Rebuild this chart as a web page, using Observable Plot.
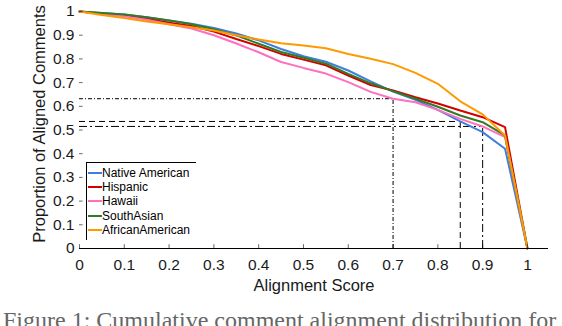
<!DOCTYPE html>
<html>
<head>
<meta charset="utf-8">
<script src="https://cdn.jsdelivr.net/npm/d3@7"></script>
<script src="https://cdn.jsdelivr.net/npm/@observablehq/plot@0.6"></script>
<style>
  html, body { margin: 0; padding: 0; background: #fff; }
  #wrap { position: relative; width: 562px; height: 326px; overflow: hidden; background: #fff; }
  #legend { position: absolute; left: 86px; top: 162px; width: 109px; height: 77px;
            border-top: 1px solid #000; border-left: 1px solid #000; background: #fff;
            font-family: "Liberation Sans", Arial, sans-serif; font-size: 12px; color: #000; }
  .row { position: absolute; left: 0; height: 14px; line-height: 14px; white-space: nowrap; }
  .sw { position: absolute; left: 1px; top: 6px; width: 14px; height: 2px; }
  .lab { position: absolute; left: 15px; top: 0; }
  #caption { position: absolute; left: 3px; top: 308px; font-family: "Liberation Serif", "Times New Roman", serif;
             font-size: 24px; color: #666; white-space: nowrap; line-height: 1; }
</style>
</head>
<body>
<div id="wrap"></div>
<script>
// ---- data ----
const scores = [0, 0.05, 0.1, 0.15, 0.2, 0.25, 0.3, 0.35, 0.4, 0.45, 0.5, 0.55, 0.6, 0.65, 0.7, 0.75, 0.8, 0.85, 0.9, 0.95, 1];
const nativeAmerican  = [1, 0.994, 0.987, 0.976, 0.962, 0.948, 0.930, 0.907, 0.878, 0.842, 0.811, 0.788, 0.751, 0.705, 0.662, 0.627, 0.585, 0.536, 0.491, 0.421, 0];
const hispanic        = [1, 0.991, 0.983, 0.969, 0.953, 0.939, 0.915, 0.884, 0.854, 0.821, 0.797, 0.773, 0.730, 0.690, 0.667, 0.638, 0.612, 0.582, 0.554, 0.512, 0];
const hawaii          = [1, 0.990, 0.980, 0.965, 0.946, 0.928, 0.900, 0.865, 0.828, 0.787, 0.762, 0.738, 0.702, 0.661, 0.632, 0.617, 0.585, 0.547, 0.515, 0.470, 0];
const southAsian      = [1, 0.994, 0.987, 0.976, 0.962, 0.946, 0.925, 0.899, 0.864, 0.829, 0.805, 0.780, 0.737, 0.697, 0.664, 0.632, 0.598, 0.561, 0.533, 0.477, 0];
const africanAmerican = [1, 0.985, 0.973, 0.958, 0.946, 0.934, 0.920, 0.900, 0.882, 0.866, 0.857, 0.845, 0.821, 0.801, 0.778, 0.741, 0.695, 0.621, 0.566, 0.477, 0];

const seriesNames  = ["Native American", "Hispanic", "Hawaii", "SouthAsian", "AfricanAmerican"];
const seriesColors = ["#3f7fdb", "#d40000", "#ff6fbf", "#347a22", "#ff9900"];
const seriesValues = [nativeAmerican, hispanic, hawaii, southAsian, africanAmerican];

// reference (threshold) lines
const refScores  = [0.7, 0.85, 0.9];
const refProps   = [0.632, 0.536, 0.515];
const refDashes  = ["4,2,1,2", "6,4", "8,3,2,3"];

const xTicks = [0, 0.1, 0.2, 0.3, 0.4, 0.5, 0.6, 0.7, 0.8, 0.9, 1];
const xTickLabels = ["0", "0.1", "0.2", "0.3", "0.4", "0.5", "0.6", "0.7", "0.8", "0.9", "1"];
const yTicks = [0, 0.1, 0.2, 0.3, 0.4, 0.5, 0.6, 0.7, 0.8, 0.9, 1];
const yTickLabels = ["0", "0.1", "0.2", "0.3", "0.4", "0.5", "0.6", "0.7", "0.8", "0.9", "1"];

const xLabel = "Alignment Score";
const yLabel = "Proportion of Aligned Comments";
const captionText = "Figure 1: Cumulative comment alignment distribution for";

// ---- build table ----
const rows = [];
seriesNames.forEach((name, s) => {
  scores.forEach((x, i) => rows.push({series: name, score: x, prop: seriesValues[s][i]}));
});
const refs = refScores.map((x, i) => ({x, y: refProps[i], dash: refDashes[i]}));

const refMarks = refs.flatMap(r => [
  Plot.ruleY([r], {y: "y", x1: 0, x2: "x", stroke: "#000", strokeWidth: 1, strokeDasharray: r.dash}),
  Plot.ruleX([r], {x: "x", y1: 0, y2: "y", stroke: "#000", strokeWidth: 1, strokeDasharray: r.dash})
]);

const chart = Plot.plot({
  width: 562, height: 326,
  marginLeft: 79, marginRight: 14, marginTop: 11, marginBottom: 78,
  x: {domain: [0, 1.047]},
  y: {domain: [0, 1]},
  color: {domain: seriesNames, range: seriesColors},
  style: {fontFamily: "'Liberation Sans', Arial, sans-serif", fontSize: "15.5px", color: "#1a1a1a", background: "#fff"},
  marks: [
    ...refMarks,
    Plot.line(rows, {x: "score", y: "prop", stroke: "series", z: "series", strokeWidth: 2, strokeLinejoin: "miter"}),
    Plot.ruleY([0], {stroke: "#000", strokeWidth: 1}),
    Plot.ruleX(xTicks, {x: d => d, y1: 0, y2: 0.016, stroke: "#000", strokeWidth: 0.6}),
    Plot.ruleY(yTicks, {y: d => d, x1: 0, x2: 0.008, stroke: "#000", strokeWidth: 0.6}),
    Plot.axisX({ticks: xTicks, tickFormat: d => xTickLabels[xTicks.indexOf(d)], tickSize: 0, tickPadding: 10, label: null}),
    Plot.axisY({ticks: yTicks, tickFormat: d => yTickLabels[yTicks.indexOf(d)], tickSize: 0, tickPadding: 5, label: null}),
    Plot.text([xLabel], {frameAnchor: "bottom", lineAnchor: "middle", textAnchor: "middle", dy: 37, fontSize: 16.5, fill: "#1a1a1a"}),
    Plot.text([yLabel], {frameAnchor: "left", textAnchor: "middle", lineAnchor: "middle", rotate: -90, dx: -40, dy: -6, fontSize: 16.5, fill: "#1a1a1a"})
  ]
});

const wrap = document.getElementById("wrap");
wrap.appendChild(chart);

// legend
const legend = document.createElement("div");
legend.id = "legend";
seriesNames.forEach((name, i) => {
  const row = document.createElement("div");
  row.className = "row";
  row.style.top = (3 + i * 14.2) + "px";
  const sw = document.createElement("div");
  sw.className = "sw";
  sw.style.background = seriesColors[i];
  const lab = document.createElement("div");
  lab.className = "lab";
  lab.textContent = name;
  row.appendChild(sw); row.appendChild(lab);
  legend.appendChild(row);
});
wrap.appendChild(legend);

const cap = document.createElement("div");
cap.id = "caption";
cap.textContent = captionText;
wrap.appendChild(cap);
</script>
</body>
</html>
